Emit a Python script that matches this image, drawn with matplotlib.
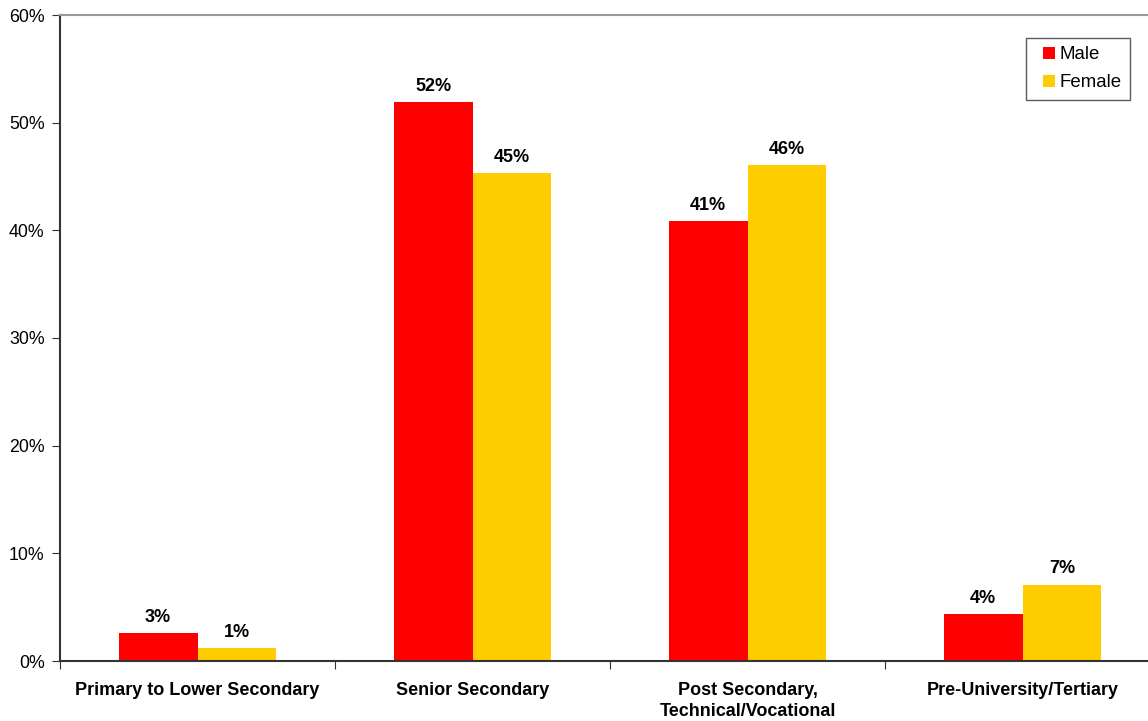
import matplotlib
matplotlib.use("Agg")
import matplotlib.pyplot as plt
from matplotlib.patches import Rectangle
from matplotlib.legend_handler import HandlerPatch
from matplotlib.container import BarContainer
import numpy as np

plt.rcParams['font.family'] = ['Liberation Sans', 'DejaVu Sans']

categories = ["Primary to Lower Secondary", "Senior Secondary",
              "Post Secondary,\nTechnical/Vocational", "Pre-University/Tertiary"]
male = [2.6, 51.9, 40.9, 4.4]
female = [1.2, 45.3, 46.1, 7.1]
male_labels = ["3%", "52%", "41%", "4%"]
female_labels = ["1%", "45%", "46%", "7%"]
yticks = [0, 10, 20, 30, 40, 50, 60]

W, H = 1148, 721
fig = plt.figure(figsize=(W/100, H/100), dpi=100)
ax = fig.add_axes([60/W, 1-661/H, 1100/W, (661-15)/H])

x = np.arange(len(categories))
bw = 0.287
ax.bar(x - bw/2, male, bw, color="#FF0000", label="Male")
ax.bar(x + bw/2, female, bw, color="#FFCC00", label="Female")

for xi, v, t in zip(x, male, male_labels):
    ax.annotate(t, (xi - bw/2, v), xytext=(0, 8), textcoords="offset points",
                ha="center", va="baseline", fontsize=13, fontweight="bold")
for xi, v, t in zip(x, female, female_labels):
    ax.annotate(t, (xi + bw/2, v), xytext=(0, 8), textcoords="offset points",
                ha="center", va="baseline", fontsize=13, fontweight="bold")

ax.set_xlim(-0.5, len(categories) - 0.5)
ax.set_ylim(0, 60)
ax.set_yticks(yticks)
ax.set_yticklabels([f"{t}%" for t in yticks], fontsize=12.8)
ax.set_xticks(np.arange(len(categories) + 1) - 0.5, minor=False)
ax.set_xticklabels([])
ax.set_xticks(x, minor=True)
ax.set_xticklabels(categories, minor=True, fontsize=13, fontweight="bold", linespacing=1.3)
ax.tick_params(axis="x", which="minor", length=0, pad=15)
ax.tick_params(axis="x", which="major", length=6, direction="out", color="#333333")
ax.tick_params(axis="y", length=6, direction="out", color="#333333", pad=5)

ax.spines["right"].set_visible(False)
ax.spines["top"].set_color("#999999")
ax.spines["top"].set_linewidth(1.5)
ax.spines["left"].set_color("#333333")
ax.spines["bottom"].set_color("#333333")
ax.spines["left"].set_linewidth(1.5)
ax.spines["bottom"].set_linewidth(1.5)


def right_square(legend, orig_handle, xdescent, ydescent, width, height, fontsize):
    s = 12 * 72 / 100
    return Rectangle((-xdescent + width - s, -ydescent + (height - s) / 2), s, s)


def first_child(legend_handle, orig_handle):
    legend_handle.update_from(orig_handle.patches[0])


leg = ax.legend(loc="upper left", bbox_to_anchor=((1026-60)/1100, (661-38)/(661-15)),
                fontsize=13.4, frameon=True, fancybox=False, edgecolor="#333333",
                handlelength=1.11, handleheight=0.7, handletextpad=0.22,
                borderpad=0.45, labelspacing=0.58, borderaxespad=0,
                handler_map={BarContainer: HandlerPatch(patch_func=right_square,
                                                        update_func=first_child)})
leg.get_frame().set_linewidth(1.0)

fig.savefig("out.png", dpi=100)
